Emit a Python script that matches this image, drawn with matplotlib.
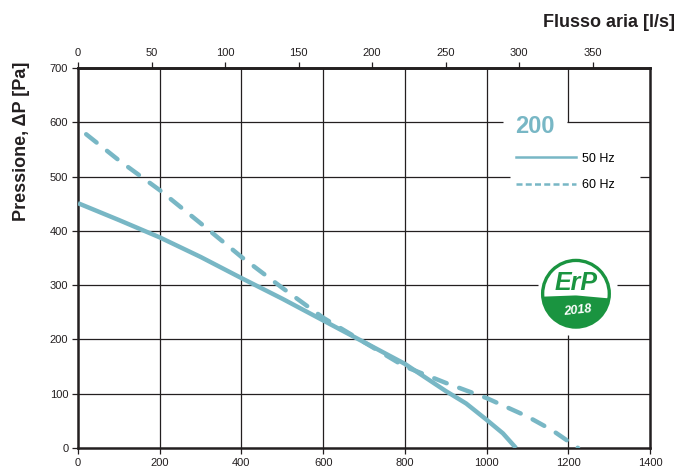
import numpy as np
import matplotlib
matplotlib.use("Agg")
import matplotlib.pyplot as plt
from matplotlib.lines import Line2D
from matplotlib.patches import Circle, Polygon

plt.rcParams['font.family'] = ['Liberation Sans', 'DejaVu Sans']

# data (flow m3/h, pressure Pa)
flow_50 = [0, 100, 200, 300, 400, 500, 600, 700, 800, 900, 950, 1000, 1040, 1072]
pres_50 = [451, 420, 388, 352, 313, 275, 235, 195, 155, 105, 82, 52, 27, 0]
flow_60 = [20, 100, 200, 300, 400, 500, 600, 700, 800, 900, 1000, 1100, 1160, 1224]
pres_60 = [578, 530, 475, 414, 352, 295, 240, 195, 150, 120, 92, 58, 33, 0]

x_ticks = list(range(0, 1401, 200))
y_ticks = list(range(0, 701, 100))
top_ticks = list(range(0, 351, 50))
series_labels = ['50 Hz', '60 Hz']
model = '200'

teal = '#78b7c5'
green = '#1a9440'
ink = '#231f20'

fig = plt.figure(figsize=(6.8, 4.7), dpi=100)
ax = fig.add_axes([0.1147, 0.0468, 0.8412, 0.8085])
ax.set_xlim(0, 1400)
ax.set_ylim(0, 700)

# grid, drawn in pieces so the legend and logo sit on clear paper
h_gaps = {600: [(0, 1040), (1197, 1400)], 500: [(0, 1058), (1376, 1400)],
          300: [(0, 1125), (1320, 1400)]}
for yv in y_ticks[1:]:
    for a, b in h_gaps.get(yv, [(0, 1400)]):
        ax.hlines(yv, a, b, color=ink, lw=0.9, zorder=1)
v_gaps = {1200: [(0, 208), (600, 700)]}
for xv in x_ticks[1:-1]:
    for a, b in v_gaps.get(xv, [(0, 700)]):
        ax.vlines(xv, a, b, color=ink, lw=0.9, zorder=1)

ax.plot(flow_50, pres_50, color=teal, lw=3.2, solid_capstyle='butt', zorder=3)
ax.plot(flow_60, pres_60, color=teal, lw=3.2, dashes=(3.0, 3.0),
        dash_capstyle='round', zorder=3)

for s in ax.spines.values():
    s.set_linewidth(1.8)
    s.set_color(ink)
ax.set_xticks(x_ticks)
ax.set_yticks(y_ticks)
ax.tick_params(labelsize=8, colors=ink, length=4, width=0.9, pad=3)

top = ax.secondary_xaxis('top', functions=(lambda v: v / 3.6, lambda v: v * 3.6))
top.set_xticks(top_ticks)
top.tick_params(labelsize=8, colors=ink, length=4, width=0.9, pad=3)
top.spines['top'].set_linewidth(1.8)

fig.text(0.993, 0.953, 'Flusso aria [l/s]', ha='right', va='center',
         fontsize=13, fontweight='bold', color=ink)
fig.text(0.032, 0.70, 'Pressione, ΔP [Pa]', ha='center', va='center',
         rotation=90, fontsize=13, fontweight='bold', color=ink)

handles = [Line2D([], [], color=teal, lw=1.8),
           Line2D([], [], color=teal, lw=1.8, dashes=(2.4, 1.3))]
leg = ax.legend(handles, series_labels, title=model, loc='upper left',
                bbox_to_anchor=(0.765, 0.876), frameon=False, fontsize=9,
                handlelength=4.8, handletextpad=0.5, labelspacing=1.15,
                borderpad=0, borderaxespad=0, alignment='left',
                title_fontproperties={'weight': 'bold', 'size': 17})
leg.get_title().set_color(teal)

# ErP 2018 badge
lg = fig.add_axes([0.793, 0.297, 0.108, 0.156])
lg.set_xlim(-1.1, 1.1)
lg.set_ylim(-1.1, 1.1)
lg.set_aspect('equal')
lg.axis('off')
lg.add_patch(Circle((0, 0), 1.0, facecolor='white', edgecolor=green, lw=2.4))
th = np.linspace(np.radians(185), np.radians(352), 60)
arc = np.column_stack([np.cos(th), np.sin(th)])
xs = np.linspace(np.cos(th[-1]), np.cos(th[0]), 40)
top_edge = np.column_stack([xs, np.interp(xs, [np.cos(th[0]), 0, np.cos(th[-1])],
                                          [np.sin(th[0]), -0.05, np.sin(th[-1])])])
lg.add_patch(Polygon(np.vstack([arc, top_edge]), closed=True, facecolor=green, edgecolor='none'))
lg.text(0.0, 0.33, 'ErP', ha='center', va='center', fontsize=18, fontweight='bold',
        fontstyle='italic', color=green)
lg.text(0.05, -0.5, '2018', ha='center', va='center', fontsize=9, fontweight='bold',
        fontstyle='italic', color='white', rotation=6)

fig.savefig('out.png', dpi=100)
